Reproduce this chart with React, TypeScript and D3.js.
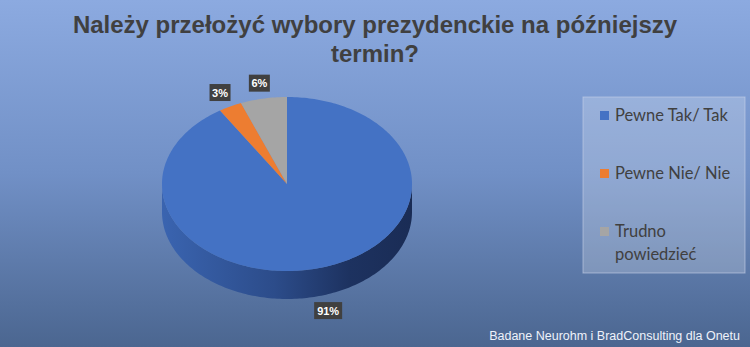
import React from "react";
import * as d3 from "d3";

const categories = ["Pewne Tak/ Tak", "Pewne Nie/ Nie", "Trudno powiedzieć"];
const values = [91, 3, 6];
const colors = ["#4472C4", "#ED7D31", "#A5A5A5"];
const titleLines = ["Należy przełożyć wybory prezydenckie na późniejszy", "termin?"];
const legendLines = [["Pewne Tak/ Tak"], ["Pewne Nie/ Nie"], ["Trudno", "powiedzieć"]];
const source = "Badane Neurohm i BradConsulting dla Onetu";

const W = 750, H = 347;
const cx = 287, cy = 184, rx = 125, ry = 87, depth = 28;

function pt(a: number, dy = 0): [number, number] {
  return [cx + rx * Math.sin(a), cy - ry * Math.cos(a) + dy];
}

function arcPoints(a0: number, a1: number, dy = 0) {
  const n = Math.max(2, Math.ceil(Math.abs(a1 - a0) / 0.02));
  const s = d3.scaleLinear().domain([0, n]).range([a0, a1]);
  return d3.range(n + 1).map((i) => pt(s(i), dy));
}

export default function App() {
  const pie = d3.pie<number>().sort(null)(values);
  const line = d3.line();
  const sidePath =
    line([...arcPoints(Math.PI / 2, (3 * Math.PI) / 2), ...arcPoints((3 * Math.PI) / 2, Math.PI / 2, depth)]) + "Z";
  return (
    <svg width={W} height={H} style={{ position: "absolute", left: 0, top: 0 }}>
      <defs>
        <linearGradient id="bg" x1="0" y1="0" x2="0" y2="1">
          <stop offset="0" stopColor="#8CAAE0" />
          <stop offset="0.5" stopColor="#7190C6" />
          <stop offset="1" stopColor="#4B6690" />
        </linearGradient>
        <linearGradient id="side" x1={cx - rx} y1="0" x2={cx + rx} y2="0" gradientUnits="userSpaceOnUse">
          <stop offset="0" stopColor="#3A64B0" />
          <stop offset="0.45" stopColor="#2C4C8A" />
          <stop offset="0.75" stopColor="#1D3260" />
          <stop offset="1" stopColor="#1A2C55" />
        </linearGradient>
      </defs>
      <rect width={W} height={H} fill="url(#bg)" />
      {titleLines.map((t, i) => (
        <text key={i} x={375} y={33 + i * 29} textAnchor="middle" fontFamily="Liberation Sans Narrow, Liberation Sans, Arial" fontWeight="bold" fontSize={24} fill="#404040">
          {t}
        </text>
      ))}
      <path d={sidePath} fill="url(#side)" />
      {pie.map((p, i) => (
        <path key={i} d={line([[cx, cy], ...arcPoints(p.startAngle, p.endAngle)]) + "Z"} fill={colors[i]} />
      ))}
      {pie.map((p, i) => {
        const m = (p.startAngle + p.endAngle) / 2;
        const k = 1.18;
        const x = cx + rx * k * Math.sin(m);
        const cosm = Math.cos(m);
        const y = cy - ry * k * cosm + (cosm < 0 ? depth : 0);
        const label = `${values[i]}%`;
        const w = label.length * 7 + 7;
        return (
          <g key={i}>
            <rect x={x - w / 2} y={y - 8.5} width={w} height={17} fill="#404040" />
            <text x={x} y={y + 4} textAnchor="middle" fontFamily="Liberation Sans, Arial" fontWeight="bold" fontSize={11} fill="#FFFFFF">
              {label}
            </text>
          </g>
        );
      })}
      <rect x={583} y={97} width={162} height={176} fill="#FFFFFF" fillOpacity={0.22} stroke="#C8D4EA" strokeOpacity={0.6} />
      {legendLines.map((ls, i) => {
        const yb = 121 + i * 58;
        return (
          <g key={i}>
            <rect x={600} y={yb - 10} width={9} height={9} fill={colors[i]} />
            {ls.map((l, j) => (
              <text key={j} x={615} y={yb + j * 23} fontFamily="Lato, Open Sans, sans-serif" fontSize={16.5} fill="#404040">
                {l}
              </text>
            ))}
          </g>
        );
      })}
      <text x={740} y={340} textAnchor="end" fontFamily="Liberation Sans, Arial" fontSize={12.5} fill="#EEF2FA">
        {source}
      </text>
    </svg>
  );
}
